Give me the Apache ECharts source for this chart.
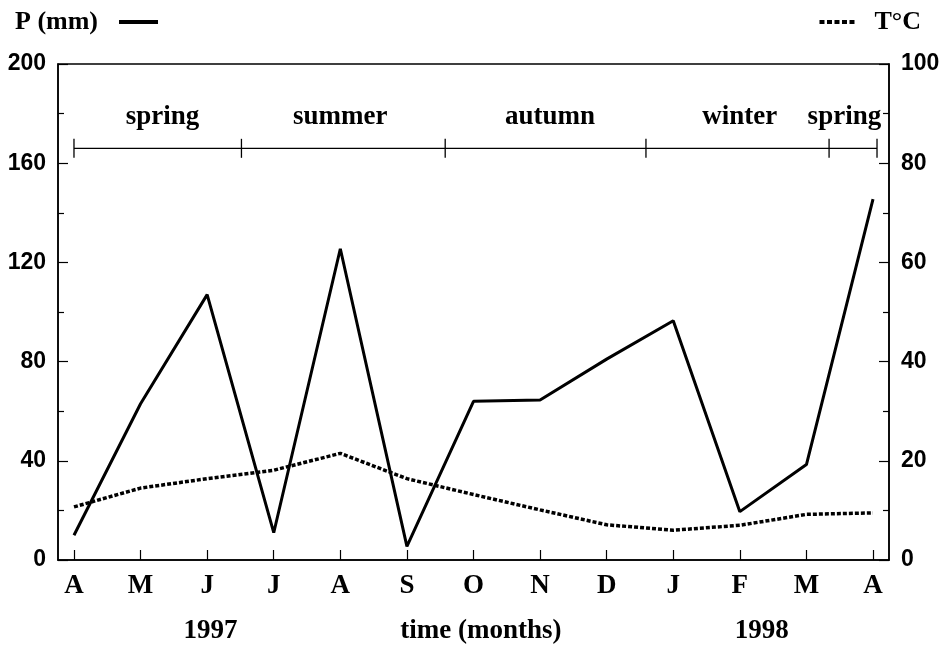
<!DOCTYPE html>
<html>
<head>
<meta charset="utf-8">
<script src="https://cdn.jsdelivr.net/npm/echarts@6/dist/echarts.min.js"></script>
<style>
  html, body { margin: 0; padding: 0; background: #fff; }
  #chart { width: 950px; height: 645px; }
</style>
</head>
<body>
<div id="chart"></div>
<script>
// months on the x axis (April 1997 .. April 1998)
const months = ['A', 'M', 'J', 'J', 'A', 'S', 'O', 'N', 'D', 'J', 'F', 'M', 'A'];
// precipitation, mm (left axis)
const precip = [10, 63, 107, 11, 125.5, 5.5, 64, 64.5, 81, 96.5, 19.5, 38.5, 145.5];
// temperature, °C (right axis)
const temp = [10.7, 14.5, 16.4, 18.1, 21.5, 16.4, 13.2, 10.1, 7.1, 6.0, 7.0, 9.2, 9.5];
// seasons: names and boundaries in month units
const seasonNames = ['spring', 'summer', 'autumn', 'winter', 'spring'];
const seasonBounds = [0, 2.515, 5.575, 8.59, 11.34, 12.06];
const seasonLabelAt = [1.33, 4.0, 7.15, 10.0, 11.57];
// texts under the month labels
const bottomNames = ['1997', 'time (months)', '1998'];
const bottomNameAt = [2.05, 6.11, 10.33];

const serif = "'Liberation Serif', 'Times New Roman', serif";
const sans = "'Liberation Sans', Arial, sans-serif";
const SEASON_Y = 166;
const SEASON_LABEL_Y = 178.5;

const chart = echarts.init(document.getElementById('chart'));

const monthIdx = months.map((m, i) => i);

const yAxisBase = {
  type: 'value',
  axisLine: { show: true, onZero: false, lineStyle: { color: '#000', width: 1.5 } },
  axisTick: { show: true, inside: true, length: 10, lineStyle: { color: '#000', width: 1.2 } },
  minorTick: { show: true, splitNumber: 2, length: 6, lineStyle: { color: '#000', width: 1.2 } },
  axisLabel: { fontFamily: sans, fontWeight: 'bold', fontSize: 23, color: '#000', margin: 12 },
  splitLine: { show: false }
};

const legendText = { fontFamily: serif, fontWeight: 'bold', fontSize: 26, color: '#000' };

const option = {
  animation: false,
  backgroundColor: '#fff',
  grid: {
    left: 58, right: 61, top: 64, bottom: 83,
    show: true, borderColor: '#000', borderWidth: 1.5
  },
  legend: [
    {
      data: ['P (mm)'],
      left: 10, top: 4,
      align: 'right',
      itemWidth: 39, itemHeight: 14,
      itemStyle: { opacity: 0 },
      lineStyle: { width: 4 },
      textStyle: Object.assign({ padding: [0, 16, 0, 0] }, legendText)
    },
    {
      data: ['T°C'],
      right: 24, top: 4,
      align: 'left',
      itemWidth: 36, itemHeight: 14,
      itemStyle: { opacity: 0 },
      lineStyle: { width: 4, type: [5, 2.5] },
      textStyle: Object.assign({ padding: [0, 0, 0, 14] }, legendText)
    }
  ],
  xAxis: [
    {
      type: 'value',
      min: -0.24, max: 12.24,
      axisLine: { show: true, onZero: false, lineStyle: { color: '#000', width: 1.5 } },
      axisTick: { show: true, inside: true, length: 10, customValues: monthIdx, lineStyle: { color: '#000', width: 1.2 } },
      axisLabel: {
        customValues: monthIdx,
        formatter: v => months[Math.round(v)],
        fontFamily: serif, fontWeight: 'bold', fontSize: 27, color: '#000', margin: 13
      },
      splitLine: { show: false }
    },
    {
      type: 'value',
      position: 'bottom',
      min: -0.24, max: 12.24,
      axisLine: { show: false, onZero: false },
      axisTick: { show: false },
      axisLabel: {
        customValues: bottomNameAt,
        formatter: v => bottomNames[bottomNameAt.indexOf(v)],
        fontFamily: serif, fontWeight: 'bold', fontSize: 27, color: '#000', margin: 58
      },
      splitLine: { show: false }
    }
  ],
  yAxis: [
    Object.assign({}, yAxisBase, { min: 0, max: 200, interval: 40, position: 'left' }),
    Object.assign({}, yAxisBase, { min: 0, max: 100, interval: 20, position: 'right' })
  ],
  series: [
    {
      name: 'P (mm)',
      type: 'line',
      yAxisIndex: 0,
      data: precip.map((v, i) => [i, v]),
      symbol: 'none',
      lineStyle: { color: '#000', width: 3 },
      itemStyle: { color: '#000' }
    },
    {
      name: 'T°C',
      type: 'line',
      yAxisIndex: 1,
      data: temp.map((v, i) => [i, v]),
      symbol: 'none',
      lineStyle: { color: '#000', width: 3.5, type: [4, 2] },
      itemStyle: { color: '#000' }
    },
    {
      name: 'season bar',
      type: 'line',
      yAxisIndex: 0,
      data: [[seasonBounds[0], SEASON_Y], [seasonBounds[seasonBounds.length - 1], SEASON_Y]],
      symbol: 'none',
      lineStyle: { color: '#000', width: 1.2 },
      silent: true
    },
    {
      name: 'season ticks',
      type: 'scatter',
      yAxisIndex: 0,
      data: seasonBounds.map(b => [b, SEASON_Y]),
      symbol: 'rect',
      symbolSize: [1.3, 19],
      itemStyle: { color: '#000', opacity: 1 },
      silent: true
    },
    {
      name: 'season names',
      type: 'scatter',
      yAxisIndex: 0,
      data: seasonLabelAt.map((x, i) => ({ value: [x, SEASON_LABEL_Y], name: seasonNames[i] })),
      symbolSize: 0,
      itemStyle: { color: '#000', opacity: 1 },
      label: {
        show: true, position: 'inside',
        formatter: p => p.name,
        fontFamily: serif, fontWeight: 'bold', fontSize: 27, color: '#000',
        textBorderWidth: 0, opacity: 1
      },
      silent: true
    }
  ]
};

chart.setOption(option);
</script>
</body>
</html>
